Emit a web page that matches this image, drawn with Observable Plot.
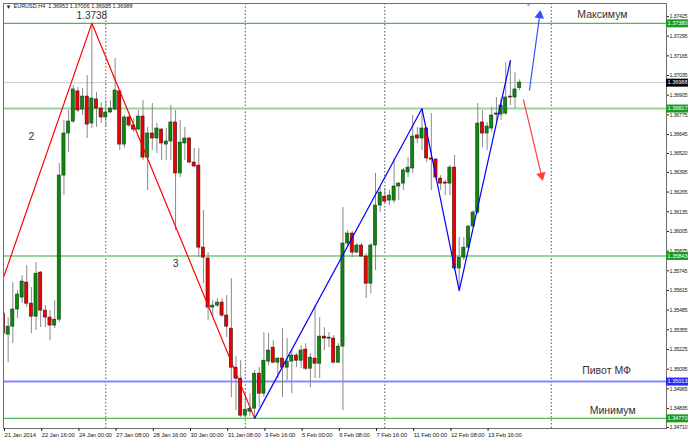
<!DOCTYPE html>
<html><head><meta charset="utf-8">
<script src="https://cdn.jsdelivr.net/npm/d3@7"></script>
<script src="https://cdn.jsdelivr.net/npm/@observablehq/plot@0.6"></script>
<style>
body{margin:0;background:#fff}
#chart{width:688px;height:443px;overflow:hidden}
#chart g[aria-label="y-axis tick label"], #chart g[aria-label="price tag"]{letter-spacing:-0.3px}
#chart g[aria-label="x-axis tick label"]{letter-spacing:-0.15px}
</style>
</head><body><div id="chart"></div>
<script>
// ---- Data (EURUSD H4, bar index 0 = 21 Jan 2014 08:00) ----
const opens = [1.35462,1.35323,1.35376,1.35489,1.35568,1.35667,1.35528,1.35442,1.35733,1.35482,1.35436,1.35383,1.35422,1.36374,1.36652,1.36731,1.36930,1.36810,1.36896,1.36718,1.36877,1.36817,1.36758,1.36791,1.36810,1.36930,1.36579,1.36758,1.36705,1.36678,1.36764,1.36493,1.36652,1.36619,1.36678,1.36579,1.36599,1.36725,1.36388,1.36586,1.36619,1.36460,1.36440,1.35898,1.35826,1.35502,1.35515,1.35535,1.35449,1.35363,1.35105,1.35032,1.34788,1.34814,1.34834,1.35065,1.34933,1.35145,1.35237,1.35138,1.35165,1.35105,1.35145,1.35185,1.35151,1.35224,1.35098,1.35165,1.35131,1.35310,1.35303,1.35297,1.35138,1.35244,1.35925,1.35991,1.35865,1.35912,1.35839,1.35660,1.35912,1.36176,1.36235,1.36209,1.36209,1.36302,1.36321,1.36394,1.36421,1.36639,1.36619,1.36685,1.36487,1.36480,1.36354,1.36328,1.36321,1.36427,1.35760,1.35832,1.35898,1.36037,1.36130,1.36725,1.36652,1.36685,1.36784,1.36777,1.36784,1.36896,1.36890,1.36952];
const highs = [1.35614,1.35436,1.35667,1.35614,1.35713,1.35779,1.35634,1.35799,1.35740,1.35515,1.35482,1.35548,1.36454,1.36738,1.36804,1.36969,1.36956,1.36949,1.37035,1.37380,1.36923,1.36857,1.36870,1.36870,1.37148,1.36936,1.36771,1.36771,1.36751,1.36804,1.36870,1.36692,1.36850,1.36718,1.36685,1.36685,1.36837,1.36804,1.36738,1.36692,1.36625,1.36553,1.36553,1.36143,1.35865,1.35548,1.35561,1.35561,1.35581,1.35693,1.35178,1.35151,1.34933,1.34933,1.35085,1.35105,1.35336,1.35330,1.35283,1.35171,1.35363,1.35297,1.35218,1.35198,1.35251,1.35264,1.35198,1.35515,1.35436,1.35370,1.35336,1.35317,1.35264,1.36163,1.36011,1.36004,1.35925,1.35925,1.35859,1.35925,1.36388,1.36295,1.36288,1.36275,1.36487,1.36328,1.36421,1.36493,1.36771,1.36692,1.36817,1.36692,1.36784,1.36487,1.36374,1.36341,1.36440,1.36507,1.35965,1.35965,1.36044,1.36143,1.36850,1.36804,1.36725,1.36824,1.36890,1.36883,1.37121,1.37134,1.37055,1.37006];
const lows = [1.35251,1.35138,1.35264,1.35429,1.35528,1.35502,1.35330,1.35350,1.35370,1.35370,1.35283,1.35363,1.35403,1.36242,1.36526,1.36718,1.36791,1.36771,1.36619,1.36685,1.36692,1.36718,1.36692,1.36784,1.36804,1.36540,1.36553,1.36692,1.36658,1.36672,1.36474,1.36275,1.36540,1.36520,1.36474,1.36474,1.36474,1.36011,1.36361,1.36474,1.36454,1.36427,1.35832,1.35660,1.35416,1.35436,1.35502,1.35436,1.35303,1.34907,1.34821,1.34775,1.34775,1.34780,1.34770,1.34841,1.34907,1.35118,1.35131,1.35032,1.34907,1.35019,1.34933,1.35105,1.35098,1.35085,1.34973,1.35032,1.35032,1.35218,1.35237,1.35131,1.35131,1.34821,1.35898,1.35832,1.35859,1.35832,1.35561,1.35594,1.35746,1.36130,1.36189,1.36176,1.36189,1.36209,1.36275,1.36361,1.36388,1.36586,1.36540,1.36460,1.36275,1.36341,1.36275,1.36242,1.36242,1.35746,1.35614,1.35812,1.35879,1.36031,1.36117,1.36559,1.36540,1.36658,1.36725,1.36738,1.36771,1.36837,1.36817,1.36935];
const closes = [1.35330,1.35376,1.35489,1.35588,1.35674,1.35528,1.35442,1.35726,1.35482,1.35436,1.35383,1.35422,1.36374,1.36652,1.36731,1.36943,1.36804,1.36896,1.36711,1.36883,1.36817,1.36758,1.36791,1.36817,1.36936,1.36579,1.36758,1.36705,1.36678,1.36764,1.36493,1.36652,1.36619,1.36685,1.36586,1.36599,1.36725,1.36388,1.36592,1.36619,1.36460,1.36434,1.35898,1.35832,1.35502,1.35515,1.35535,1.35449,1.35376,1.35105,1.35032,1.34788,1.34827,1.34834,1.35065,1.34933,1.35151,1.35218,1.35138,1.35165,1.35105,1.35145,1.35185,1.35151,1.35218,1.35098,1.35171,1.35131,1.35310,1.35297,1.35297,1.35138,1.35244,1.35925,1.35991,1.35865,1.35912,1.35839,1.35660,1.35912,1.36176,1.36262,1.36202,1.36242,1.36302,1.36321,1.36408,1.36427,1.36632,1.36619,1.36685,1.36487,1.36480,1.36361,1.36321,1.36321,1.36427,1.35760,1.35832,1.35898,1.36037,1.36130,1.36718,1.36652,1.36698,1.36771,1.36777,1.36837,1.36890,1.36890,1.36943,1.36988];

const xTickIdx = [0,8,16,24,32,40,48,56,64,72,80,88,96,104];
const xTickLabels = ["21 Jan 2014","22 Jan 16:00","24 Jan 00:00","27 Jan 08:00","28 Jan 16:00","30 Jan 00:00","31 Jan 08:00","3 Feb 16:00","5 Feb 00:00","6 Feb 08:00","7 Feb 16:00","11 Feb 00:00","12 Feb 08:00","13 Feb 16:00"];
const yTicks = [1.37425,1.37295,1.37165,1.37035,1.36905,1.36775,1.36645,1.36520,1.36395,1.36265,1.36135,1.36005,1.35875,1.35745,1.35615,1.35485,1.35355,1.35225,1.35095,1.34965,1.34835,1.34710];
const weekSeparators = [22, 52, 82, 117.8];

const levelsStrong = [1.37380, 1.34770];   // Максимум / Минимум
const levelsSoft = [1.36817, 1.35843];
const pivotLevel = [1.35013];
const bidLevel = [1.36988];

const zigRedIdx = [-6, 19, 54];
const zigRedPrice = [1.3517, 1.3738, 1.3477];
const zigBlueIdx = [54, 90, 98, 109];
const zigBluePrice = [1.3477, 1.36817, 1.35614, 1.37134];

const arrowUp = [113.1, 1.36936, 115.3, 1.37432];
const arrowDown = [111.8, 1.36877, 115.7, 1.36374];

const titleText = "EURUSD,H4  1.36952 1.37006 1.36935 1.36988";

// ---- Build tables ----
const candles = opens.map((o, i) => ({i, o, h: highs[i], l: lows[i], c: closes[i]}));
const up = candles.filter(d => d.c >= d.o);
const down = candles.filter(d => d.c < d.o);
const zigRed = zigRedIdx.map((x, k) => ({x, p: zigRedPrice[k]}));
const zigBlue = zigBlueIdx.map((x, k) => ({x, p: zigBluePrice[k]}));

const X0 = 0, X1 = 142.58, XEDGE = 147.3;
const font = "Liberation Sans, Arial, sans-serif";

const tagRule = (vals, color) => Plot.ruleY(vals, {y: d => d, x1: X1, x2: XEDGE, stroke: color, strokeWidth: 8});
const tagText = (vals) => Plot.text(vals, {y: d => d, text: d => d.toFixed(5), frameAnchor: "right", dx: 11, fill: "white", fontSize: 5.5, textAnchor: "middle", ariaLabel: "price tag"});
const arrowHead = (a, color, deg) => Plot.dot([a], {x: d => d[2], y: d => d[3], symbol: "triangle", r: 2.6, fill: color, stroke: color, rotate: deg});

const chart = Plot.plot({
  width: 688, height: 443,
  marginTop: 3, marginRight: 22, marginBottom: 15, marginLeft: 3,
  style: {fontFamily: font, background: "#fff", color: "#222"},
  x: {domain: [X0, X1], axis: null},
  y: {domain: [1.34703, 1.37511], axis: null},
  marks: [
    Plot.ruleY(bidLevel, {y: d => d, stroke: "#c8c8c8"}),
    Plot.ruleX(weekSeparators, {x: d => d, stroke: "#555", strokeDasharray: "1.5,2", clip: true}),
    Plot.ruleY(levelsSoft, {y: d => d, stroke: "#98d498", strokeWidth: 2}),
    Plot.ruleY(levelsStrong, {y: d => d, stroke: "#55b555", strokeWidth: 1.2}),
    Plot.ruleY(pivotLevel, {y: d => d, stroke: "#8888ff", strokeWidth: 2}),
    // wicks
    Plot.ruleX(candles, {x: "i", y1: "l", y2: "h", stroke: "#8a8a8a", clip: true}),
    // bodies
    Plot.rect(up, {x1: d => d.i - 0.34, x2: d => d.i + 0.34, y1: "o", y2: "c", fill: "#0a8a0a", stroke: "#1a3a1a", strokeWidth: 0.6, clip: true}),
    Plot.rect(down, {x1: d => d.i - 0.34, x2: d => d.i + 0.34, y1: "o", y2: "c", fill: "#ee0000", stroke: "#3a1010", strokeWidth: 0.6, clip: true}),
    // zigzag
    Plot.line(zigRed, {x: "x", y: "p", stroke: "#ff0000", strokeWidth: 1.2, clip: true}),
    Plot.line(zigBlue, {x: "x", y: "p", stroke: "#0000ff", strokeWidth: 1.2, clip: true}),
    // arrows
    Plot.link([arrowUp], {x1: d => d[0], y1: d => d[1], x2: d => d[2], y2: d => d[3], stroke: "#3350ff", strokeWidth: 1.2}),
    arrowHead(arrowUp, "#3350ff", 8),
    Plot.link([arrowDown], {x1: d => d[0], y1: d => d[1], x2: d => d[2], y2: d => d[3], stroke: "#ff4040", strokeWidth: 1.2}),
    arrowHead(arrowDown, "#ff4040", 167),
    // annotations
    Plot.text(["1.3738"], {x: zigRedIdx[1], y: zigRedPrice[1], text: d => d, dy: -8, fontSize: 10, fill: "#333"}),
    Plot.text(["2"], {x: 6, y: 1.36632, text: d => d, fontSize: 10.5, fill: "#333"}),
    Plot.text(["3"], {x: 37, y: 1.35793, text: d => d, fontSize: 10.5, fill: "#333"}),
    Plot.text(["Максимум"], {x: 128.8, y: levelsStrong[0], text: d => d, dy: -9, fontSize: 10.5, fill: "#333"}),
    Plot.text(["Пивот МФ"], {x: 129.7, y: pivotLevel[0], text: d => d, dy: -11, fontSize: 10.5, fill: "#333"}),
    Plot.text(["Минимум"], {x: 131, y: levelsStrong[1], text: d => d, dy: -8, fontSize: 10.5, fill: "#333"}),
    Plot.text([titleText], {frameAnchor: "top-left", text: d => d, dx: 10, dy: 1, fontSize: 5.5, fill: "#222"}),
    Plot.text(["▼"], {frameAnchor: "top-left", text: d => d, dx: 2, dy: 1, fontSize: 6, fill: "#222"}),
    Plot.text(["▼"], {x: 112.9, frameAnchor: "top", text: d => d, dy: -1, fontSize: 6, fill: "#aaa"}),
    // axes
    Plot.frame({stroke: "#6e6e6e"}),
    Plot.axisY(yTicks, {anchor: "right", tickSize: 2, tickPadding: 1, fontSize: 5.5, tickFormat: d => d.toFixed(5), label: null, color: "#222"}),
    Plot.axisX(xTickIdx, {anchor: "bottom", tickSize: 3, tickPadding: 1, fontSize: 6, textAnchor: "start", dx: 1, tickFormat: d => xTickLabels[xTickIdx.indexOf(d)], label: null, color: "#222"}),
    // price tags
    tagRule(levelsStrong, "#1e9a1e"), tagText(levelsStrong),
    tagRule(levelsSoft, "#1e9a1e"), tagText(levelsSoft),
    tagRule(bidLevel, "#000"), tagText(bidLevel),
    tagRule(pivotLevel, "#2828ff"), tagText(pivotLevel)
  ]
});
document.getElementById("chart").appendChild(chart);
</script>
</body></html>
